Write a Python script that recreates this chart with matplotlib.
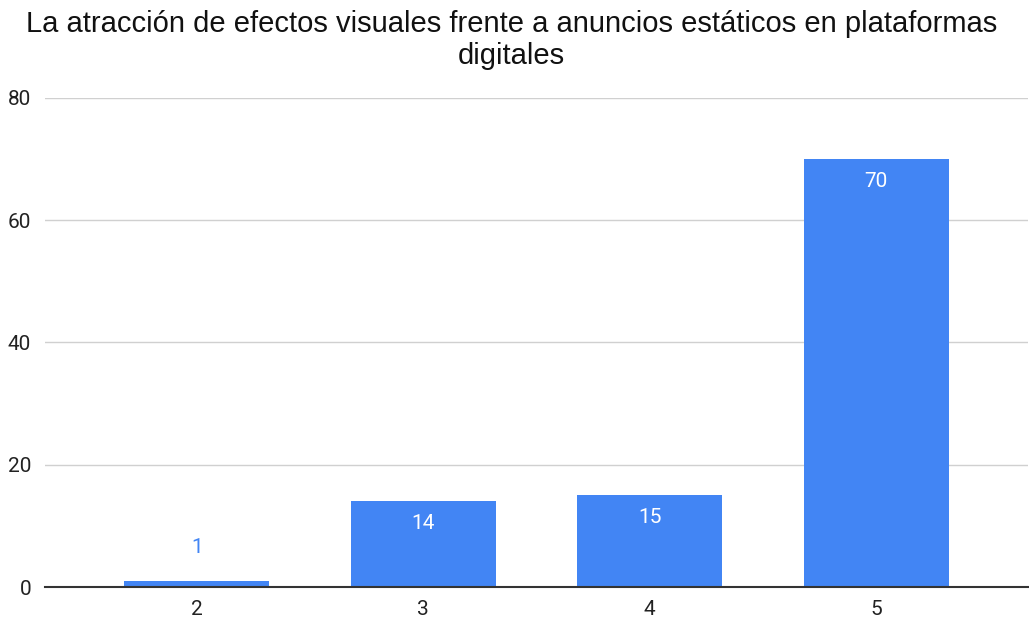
import matplotlib.pyplot as plt

# Chart data
categories = ['2', '3', '4', '5']
counts = [1, 14, 15, 70]
y_ticks = [0, 20, 40, 60, 80]
title = 'La atracción de efectos visuales frente a anuncios estáticos en plataformas\ndigitales'

bar_color = '#4285F4'

fig = plt.figure(figsize=(10.29, 6.2), dpi=100)
ax = fig.add_axes([0.0437, 0.0532, 0.9553, 0.7888])

x = range(len(categories))
bars = ax.bar(x, counts, width=0.64, color=bar_color, zorder=3)

# Value labels: inside the bar (white) when it fits, above it (blue) otherwise
for xi, val in zip(x, counts):
    if val >= 5:
        ax.annotate(str(val), (xi, val), xytext=(0, -16), textcoords='offset points',
                    ha='center', va='center', color='white', fontsize=15,
                    family='Roboto')
    else:
        ax.annotate(str(val), (xi, val), xytext=(0, 24), textcoords='offset points',
                    ha='center', va='center', color=bar_color, fontsize=15,
                    family='Roboto')

ax.set_xlim(-0.67, len(categories) - 1 + 0.67)
ax.set_ylim(0, 80)
ax.set_xticks(list(x))
ax.set_xticklabels(categories, family='Roboto', fontsize=15, color='#222222')
ax.set_yticks(y_ticks)
ax.set_yticklabels([str(v) for v in y_ticks], family='Roboto', fontsize=15,
                   color='#222222')
ax.tick_params(axis='y', length=0, pad=10)
ax.tick_params(axis='x', length=0, pad=9)
ax.grid(axis='y', color='#d0d0d0', lw=1.0, zorder=0)

for side in ['top', 'right', 'left']:
    ax.spines[side].set_visible(False)
ax.spines['bottom'].set_color('#333333')
ax.spines['bottom'].set_linewidth(1.5)
ax.spines['bottom'].set_zorder(4)

fig.suptitle(title, x=0.497, y=0.984, fontsize=21, family='Liberation Sans',
             color='#111111', linespacing=1.2, va='top')

plt.savefig('out.png', dpi=100)
